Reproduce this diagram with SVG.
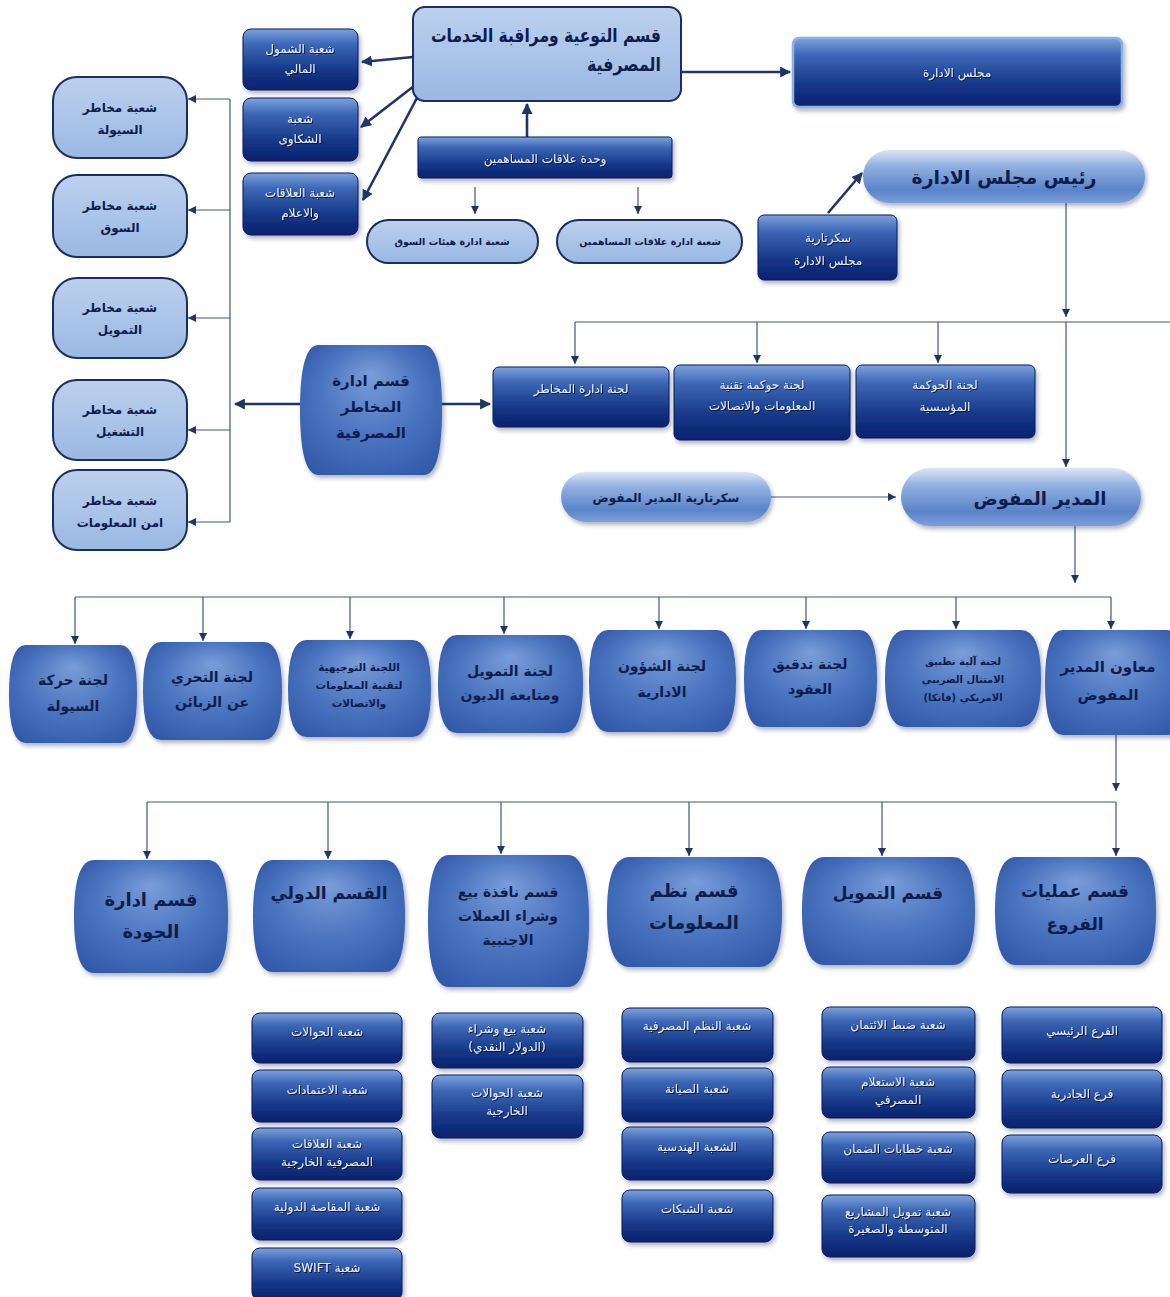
<svg xmlns="http://www.w3.org/2000/svg" xmlns:xlink="http://www.w3.org/1999/xlink" width="1170" height="1297" viewBox="0 0 1170 1297">
<style>
.dk{fill:url(#gDark);stroke:#0a1d5c;stroke-width:1;filter:url(#sh)}
.lt{fill:url(#gLight);stroke:#1c2e5e;stroke-width:2}
.br{fill:url(#gBarrel);filter:url(#sh)}
.pl{fill:url(#gPill);filter:url(#sh)}
.t{font-family:"DejaVu Sans","Noto Sans",sans-serif;text-anchor:middle;direction:rtl}
.tw{fill:#e3ecf9;font-size:12px;filter:url(#tsh)}
.td{fill:#0d1d4c;font-weight:bold}
.ln{fill:none;stroke:#3d5685;stroke-width:1.2}
.ar{fill:none;stroke:#3d5685;stroke-width:1.2;marker-end:url(#ah)}
.tk{fill:none;stroke:#1f3566;stroke-width:2.6;marker-end:url(#ahb)}
</style>
<defs>
<linearGradient id="gDark" x1="0" y1="0" x2="0" y2="1">
<stop offset="0" stop-color="#7da2dc"/><stop offset="0.25" stop-color="#3d67b6"/><stop offset="0.7" stop-color="#143585"/><stop offset="1" stop-color="#0b226e"/>
</linearGradient>
<linearGradient id="gLight" x1="0" y1="0" x2="0" y2="1">
<stop offset="0" stop-color="#bcd0ee"/><stop offset="1" stop-color="#9ab8e3"/>
</linearGradient>
<radialGradient id="gBarrel" cx="0.5" cy="0.5" r="0.72" fx="0.5" fy="0.22">
<stop offset="0" stop-color="#7a9dd9"/><stop offset="0.5" stop-color="#4a74bf"/><stop offset="1" stop-color="#2b52a2"/>
</radialGradient>
<linearGradient id="gPill" x1="0" y1="0" x2="0" y2="1">
<stop offset="0" stop-color="#dbe6f6"/><stop offset="0.3" stop-color="#92b1e0"/><stop offset="0.75" stop-color="#5a83c9"/><stop offset="1" stop-color="#7d9fd8"/>
</linearGradient>
<filter id="sh" x="-10%" y="-10%" width="125%" height="130%">
<feDropShadow dx="2" dy="3" stdDeviation="2" flood-color="#1a2a50" flood-opacity="0.35"/>
</filter>
<filter id="tsh" x="-10%" y="-30%" width="120%" height="160%">
<feDropShadow dx="1" dy="1" stdDeviation="0.6" flood-color="#000" flood-opacity="0.7"/>
</filter>
<marker id="ah" viewBox="0 0 10 10" refX="10" refY="5" markerWidth="8" markerHeight="8" markerUnits="userSpaceOnUse" orient="auto">
<path d="M0,0 L10,5 L0,10 z" fill="#1f3566"/>
</marker>
<marker id="ahb" viewBox="0 0 10 10" refX="9" refY="5" markerWidth="11" markerHeight="11" markerUnits="userSpaceOnUse" orient="auto">
<path d="M0,0 L10,5 L0,10 z" fill="#1f3566"/>
</marker>
<symbol id="barrel" viewBox="0 0 100 100" preserveAspectRatio="none">
<path d="M13,0 H87 Q100,0 100,50 Q100,100 87,100 H13 Q0,100 0,50 Q0,0 13,0 Z"/>
</symbol>
</defs>
<rect width="1170" height="1297" fill="#ffffff"/>

<g id="connectors">
<path class="tk" d="M681,72 H790"/>
<path class="tk" d="M413,57 L362,62"/>
<path class="tk" d="M414,86 L361,127"/>
<path class="tk" d="M418,96 L363,200"/>
<path class="tk" d="M527,137 V104"/>
<path class="ar" d="M475,187 V214"/>
<path class="ar" d="M638,187 V214"/>
<path class="tk" d="M828,213 L862,173"/>
<path class="ar" d="M1066,203 V317"/>
<path class="ar" d="M1066,322 V467"/>
<path class="ln" d="M575,322 H1170"/>
<path class="ar" d="M575,322 V364"/>
<path class="ar" d="M757,322 V363"/>
<path class="ar" d="M938,322 V363"/>
<path class="tk" d="M442,404 H490"/>
<path class="tk" d="M300,404 H235"/>
<path class="ln" d="M230,99 V522"/>
<path class="ar" d="M230,99 H188"/>
<path class="ar" d="M230,210 H188"/>
<path class="ar" d="M230,318 H188"/>
<path class="ar" d="M230,430 H188"/>
<path class="ar" d="M230,522 H188"/>
<path class="ar" d="M771,497 H896"/>
<path class="ar" d="M1075,526 V583"/>
<path class="ln" d="M75,597 H1111"/>
<path class="ar" d="M75,597 V644"/>
<path class="ar" d="M203,597 V641"/>
<path class="ar" d="M350,597 V639"/>
<path class="ar" d="M504,597 V634"/>
<path class="ar" d="M659,597 V629"/>
<path class="ar" d="M806,597 V629"/>
<path class="ar" d="M956,597 V629"/>
<path class="ar" d="M1111,597 V629"/>
<path class="ar" d="M1116,735 V791"/>
<path class="ln" d="M147,802 H1116"/>
<path class="ar" d="M147,802 V859"/>
<path class="ar" d="M328,802 V859"/>
<path class="ar" d="M501,802 V854"/>
<path class="ar" d="M689,802 V856"/>
<path class="ar" d="M882,802 V856"/>
<path class="ar" d="M1116,802 V856"/>
</g>

<g id="n-awareness"><rect class="lt" x="413" y="7" width="268" height="94" rx="12"/>
<text class="t td" x="546" y="42" font-size="19" textLength="230" lengthAdjust="spacingAndGlyphs">قسم التوعية ومراقبة الخدمات</text>
<text class="t td" x="624" y="71" font-size="19" textLength="74" lengthAdjust="spacingAndGlyphs">المصرفية</text></g>

<g id="n-board"><rect x="793" y="38" width="329" height="69" rx="6" fill="url(#gDark)" stroke="#8fb0e0" stroke-width="2.5" filter="url(#sh)"/>
<text class="t tw" x="957" y="77" font-size="13">مجلس الادارة</text></g>

<g id="n-inclusion"><rect class="dk" x="243" y="29" width="115" height="61" rx="8"/>
<text class="t tw" x="300" y="53" font-size="11">شعبة الشمول</text><text class="t tw" x="300" y="73" font-size="11">المالي</text></g>
<g id="n-complaints"><rect class="dk" x="243" y="98" width="115" height="63" rx="8"/>
<text class="t tw" x="300" y="123" font-size="11">شعبة</text><text class="t tw" x="300" y="143" font-size="11">الشكاوى</text></g>
<g id="n-relations"><rect class="dk" x="243" y="173" width="115" height="62" rx="8"/>
<text class="t tw" x="300" y="197" font-size="11">شعبة العلاقات</text><text class="t tw" x="300" y="217" font-size="11">والاعلام</text></g>

<g id="n-shareholders"><rect class="dk" x="418" y="137" width="254" height="41" rx="3"/>
<text class="t tw" x="545" y="163" font-size="16">وحدة علاقات المساهمين</text></g>
<g id="n-market"><rect class="lt" x="367" y="220" width="171" height="43" rx="21.5"/>
<text class="t td" x="452" y="245" font-size="9.5">شعبة ادارة هيئات السوق</text></g>
<g id="n-shareholder-rel"><rect class="lt" x="557" y="220" width="185" height="43" rx="21.5"/>
<text class="t td" x="650" y="245" font-size="9.5">شعبة ادارة علاقات المساهمين</text></g>

<g id="n-chairman"><rect class="pl" x="863" y="150" width="282" height="53" rx="26.5"/>
<text class="t td" x="1004" y="184" font-size="19">رئيس مجلس الادارة</text></g>
<g id="n-board-sec"><rect class="dk" x="758" y="215" width="139" height="65" rx="6"/>
<text class="t tw" x="828" y="242" font-size="13">سكرتارية</text><text class="t tw" x="828" y="265" font-size="13">مجلس الادارة</text></g>

<g id="n-risk-liquidity"><rect class="lt" x="53" y="77" width="134" height="81" rx="24"/>
<text class="t td" x="120" y="112" font-size="12">شعبة مخاطر</text><text class="t td" x="120" y="134" font-size="12">السيولة</text></g>
<g id="n-risk-market"><rect class="lt" x="53" y="175" width="134" height="82" rx="24"/>
<text class="t td" x="120" y="210" font-size="12">شعبة مخاطر</text><text class="t td" x="120" y="232" font-size="12">السوق</text></g>
<g id="n-risk-credit"><rect class="lt" x="53" y="278" width="134" height="80" rx="24"/>
<text class="t td" x="120" y="312" font-size="12">شعبة مخاطر</text><text class="t td" x="120" y="334" font-size="12">التمويل</text></g>
<g id="n-risk-operation"><rect class="lt" x="53" y="380" width="134" height="80" rx="24"/>
<text class="t td" x="120" y="414" font-size="12">شعبة مخاطر</text><text class="t td" x="120" y="436" font-size="12">التشغيل</text></g>
<g id="n-risk-infosec"><rect class="lt" x="53" y="470" width="134" height="80" rx="24"/>
<text class="t td" x="120" y="505" font-size="12">شعبة مخاطر</text><text class="t td" x="120" y="527" font-size="12">امن المعلومات</text></g>

<g id="n-risk-dept"><use href="#barrel" x="300" y="345" width="142" height="130" class="br"/>
<text class="t td" x="371" y="386" font-size="15">قسم ادارة</text><text class="t td" x="371" y="412" font-size="15">المخاطر</text><text class="t td" x="371" y="438" font-size="15">المصرفية</text></g>

<g id="n-c-risk"><rect class="dk" x="493" y="367" width="176" height="60" rx="6"/>
<text class="t tw" x="581" y="393" font-size="13">لجنة ادارة المخاطر</text></g>
<g id="n-c-itgov"><rect class="dk" x="674" y="365" width="176" height="75" rx="6"/>
<text class="t tw" x="762" y="389" font-size="13">لجنة حوكمة تقنية</text><text class="t tw" x="762" y="410" font-size="10">المعلومات والاتصالات</text></g>
<g id="n-c-corpgov"><rect class="dk" x="856" y="365" width="179" height="73" rx="6"/>
<text class="t tw" x="945" y="389" font-size="13">لجنة الحوكمة</text><text class="t tw" x="945" y="411" font-size="11">المؤسسية</text></g>

<g id="n-md-sec"><rect class="pl" x="561" y="472" width="210" height="50" rx="25"/>
<text class="t td" x="666" y="502" font-size="12">سكرتارية المدير المفوض</text></g>
<g id="n-md"><rect class="pl" x="901" y="468" width="240" height="58" rx="29"/>
<text class="t td" x="1040" y="505" font-size="18">المدير المفوض</text></g>

<g id="n-liquidity-com"><use href="#barrel" x="9" y="645" width="128" height="98" class="br"/>
<text class="t td" x="73" y="685" font-size="14">لجنة حركة</text><text class="t td" x="73" y="711" font-size="14">السيولة</text></g>
<g id="n-kyc-com"><use href="#barrel" x="143" y="642" width="139" height="98" class="br"/>
<text class="t td" x="212" y="682" font-size="14">لجنة التحري</text><text class="t td" x="212" y="707" font-size="14">عن الزبائن</text></g>
<g id="n-it-steer"><use href="#barrel" x="288" y="640" width="143" height="97" class="br"/>
<text class="t td" x="359" y="671" font-size="10.5">اللجنة التوجيهية</text><text class="t td" x="359" y="689" font-size="10.5">لتقنية المعلومات</text><text class="t td" x="359" y="707" font-size="10.5">والاتصالات</text></g>
<g id="n-credit-com"><use href="#barrel" x="438" y="635" width="145" height="98" class="br"/>
<text class="t td" x="510" y="676" font-size="14">لجنة التمويل</text><text class="t td" x="510" y="700" font-size="14">ومتابعة الديون</text></g>
<g id="n-admin-com"><use href="#barrel" x="589" y="630" width="147" height="102" class="br"/>
<text class="t td" x="662" y="671" font-size="14">لجنة الشؤون</text><text class="t td" x="662" y="697" font-size="14">الادارية</text></g>
<g id="n-audit-com"><use href="#barrel" x="744" y="630" width="133" height="97" class="br"/>
<text class="t td" x="810" y="669" font-size="14">لجنة تدقيق</text><text class="t td" x="810" y="694" font-size="14">العقود</text></g>
<g id="n-fatca-com"><use href="#barrel" x="885" y="630" width="156" height="97" class="br"/>
<text class="t td" x="963" y="665" font-size="10">لجنة آلية تطبيق</text><text class="t td" x="963" y="683" font-size="10">الامتثال الضريبي</text><text class="t td" x="963" y="701" font-size="10">الامريكي (فاتكا)</text></g>
<g id="n-deputy-md"><use href="#barrel" x="1045" y="630" width="140" height="105" class="br"/>
<text class="t td" x="1108" y="672" font-size="15">معاون المدير</text><text class="t td" x="1108" y="700" font-size="15">المفوض</text></g>

<g id="n-quality"><use href="#barrel" x="74" y="860" width="154" height="113" class="br"/>
<text class="t td" x="151" y="906" font-size="18">قسم ادارة</text><text class="t td" x="151" y="938" font-size="18">الجودة</text></g>
<g id="n-intl"><use href="#barrel" x="253" y="860" width="152" height="112" class="br"/>
<text class="t td" x="329" y="899" font-size="17">القسم الدولي</text></g>
<g id="n-fx"><use href="#barrel" x="428" y="855" width="161" height="132" class="br"/>
<text class="t td" x="508" y="897" font-size="14">قسم نافذة بيع</text><text class="t td" x="508" y="921" font-size="14">وشراء العملات</text><text class="t td" x="508" y="945" font-size="14">الاجنبية</text></g>
<g id="n-is"><use href="#barrel" x="607" y="857" width="175" height="110" class="br"/>
<text class="t td" x="694" y="897" font-size="18">قسم نظم</text><text class="t td" x="694" y="929" font-size="18">المعلومات</text></g>
<g id="n-finance"><use href="#barrel" x="802" y="857" width="173" height="108" class="br"/>
<text class="t td" x="888" y="899" font-size="17">قسم التمويل</text></g>
<g id="n-branches"><use href="#barrel" x="995" y="857" width="161" height="108" class="br"/>
<text class="t td" x="1075" y="897" font-size="17">قسم عمليات</text><text class="t td" x="1075" y="930" font-size="17">الفروع</text></g>

<g id="n-i1"><rect class="dk" x="252" y="1013" width="150" height="50" rx="8"/><text class="t tw" x="327" y="1036" font-size="13">شعبة الحوالات</text></g>
<g id="n-i2"><rect class="dk" x="252" y="1070" width="150" height="52" rx="8"/><text class="t tw" x="327" y="1094" font-size="13">شعبة الاعتمادات</text></g>
<g id="n-i3"><rect class="dk" x="252" y="1128" width="150" height="52" rx="8"/><text class="t tw" x="327" y="1148" font-size="10.5">شعبة العلاقات</text><text class="t tw" x="327" y="1166" font-size="10.5">المصرفية الخارجية</text></g>
<g id="n-i4"><rect class="dk" x="252" y="1188" width="150" height="52" rx="8"/><text class="t tw" x="327" y="1211" font-size="11">شعبة المقاصة الدولية</text></g>
<g id="n-i5"><rect class="dk" x="252" y="1248" width="150" height="52" rx="8"/><text class="t tw" x="327" y="1272" font-size="13">شعبة SWIFT</text></g>

<g id="n-f1"><rect class="dk" x="432" y="1013" width="151" height="55" rx="8"/><text class="t tw" x="507" y="1033" font-size="10.5">شعبة بيع وشراء</text><text class="t tw" x="507" y="1051" font-size="10.5">(الدولار النقدي)</text></g>
<g id="n-f2"><rect class="dk" x="432" y="1075" width="151" height="63" rx="8"/><text class="t tw" x="507" y="1097" font-size="10.5">شعبة الحوالات</text><text class="t tw" x="507" y="1115" font-size="10.5">الخارجية</text></g>

<g id="n-s1"><rect class="dk" x="622" y="1008" width="151" height="54" rx="8"/><text class="t tw" x="697" y="1030" font-size="10.5">شعبة النظم المصرفية</text></g>
<g id="n-s2"><rect class="dk" x="622" y="1068" width="151" height="54" rx="8"/><text class="t tw" x="697" y="1093" font-size="13">شعبة الصيانة</text></g>
<g id="n-s3"><rect class="dk" x="622" y="1127" width="151" height="53" rx="8"/><text class="t tw" x="697" y="1151" font-size="13">الشعبة الهندسية</text></g>
<g id="n-s4"><rect class="dk" x="622" y="1190" width="151" height="52" rx="8"/><text class="t tw" x="697" y="1213" font-size="13">شعبة الشبكات</text></g>

<g id="n-c1"><rect class="dk" x="822" y="1007" width="153" height="53" rx="8"/><text class="t tw" x="898" y="1029" font-size="10.5">شعبة ضبط الائتمان</text></g>
<g id="n-c2"><rect class="dk" x="822" y="1067" width="153" height="51" rx="8"/><text class="t tw" x="898" y="1086" font-size="10.5">شعبة الاستعلام</text><text class="t tw" x="898" y="1104" font-size="10.5">المصرفي</text></g>
<g id="n-c3"><rect class="dk" x="822" y="1132" width="153" height="51" rx="8"/><text class="t tw" x="898" y="1153" font-size="10.5">شعبة خطابات الضمان</text></g>
<g id="n-c4"><rect class="dk" x="822" y="1195" width="153" height="62" rx="8"/><text class="t tw" x="898" y="1216" font-size="10">شعبة تمويل المشاريع</text><text class="t tw" x="898" y="1233" font-size="10">المتوسطة والصغيرة</text></g>

<g id="n-b1"><rect class="dk" x="1002" y="1007" width="160" height="56" rx="8"/><text class="t tw" x="1082" y="1035" font-size="14">الفرع الرئيسي</text></g>
<g id="n-b2"><rect class="dk" x="1002" y="1070" width="160" height="58" rx="8"/><text class="t tw" x="1082" y="1098" font-size="14">فرع الجادرية</text></g>
<g id="n-b3"><rect class="dk" x="1002" y="1135" width="160" height="58" rx="8"/><text class="t tw" x="1082" y="1163" font-size="14">فرع العرصات</text></g>
</svg>
